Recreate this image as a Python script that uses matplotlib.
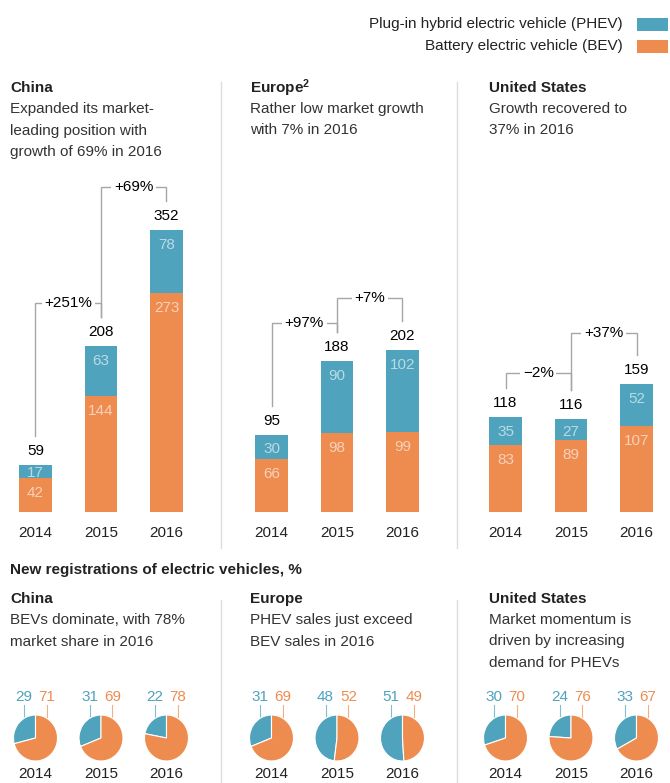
import matplotlib.pyplot as plt
from matplotlib.lines import Line2D
from matplotlib.patches import Rectangle

plt.rcParams['font.family'] = ['Liberation Sans', 'DejaVu Sans']
plt.rcParams['mathtext.default'] = 'regular'

PHEV_COLOR = '#4fa3bd'
BEV_COLOR = '#ee8c50'
TEXT_COLOR = '#222222'
LINE_GRAY = '#a6a6a6'
FS = 11

# new EV sales, thousand units
years = ['2014', '2015', '2016']
china_phev = [17, 63, 78]
china_bev = [42, 144, 273]
china_total = [59, 208, 352]
europe_phev = [30, 90, 102]
europe_bev = [66, 98, 99]
europe_total = [95, 188, 202]
us_phev = [35, 27, 52]
us_bev = [83, 89, 107]
us_total = [118, 116, 159]
china_growth = ['+251%', '+69%']
europe_growth = ['+97%', '+7%']
us_growth = ['\u22122%', '+37%']

# share of new registrations, %
china_share_phev = [29, 31, 22]
china_share_bev = [71, 69, 78]
europe_share_phev = [31, 48, 51]
europe_share_bev = [69, 52, 49]
us_share_phev = [30, 24, 33]
us_share_bev = [70, 76, 67]

sales_titles = ['China', 'Europe$^{2}$', 'United States']
sales_notes = [['Expanded its market-', 'leading position with', 'growth of 69% in 2016'],
               ['Rather low market growth', 'with 7% in 2016'],
               ['Growth recovered to', '37% in 2016']]
share_titles = ['China', 'Europe', 'United States']
share_notes = [['BEVs dominate, with 78%', 'market share in 2016'],
               ['PHEV sales just exceed', 'BEV sales in 2016'],
               ['Market momentum is', 'driven by increasing', 'demand for PHEVs']]

sales = [(china_phev, china_bev, china_total, china_growth),
         (europe_phev, europe_bev, europe_total, europe_growth),
         (us_phev, us_bev, us_total, us_growth)]
shares = [(china_share_phev, china_share_bev),
          (europe_share_phev, europe_share_bev),
          (us_share_phev, us_share_bev)]

# layout in pixels
W, H = 670, 783
SCALE = 0.804          # px per thousand vehicles
BASE = 512             # bar baseline
YMAX = 430
STEP = 65.5
col_left = [2.75, 238.75, 472.75]
text_left = [10, 250, 489]
bracket_y = [[260, 404], [235, 266], [173, 223]]
PIE_BOTTOM = 761


def fx(x):
    return x / W


def fy(y):
    return 1 - y / H


fig = plt.figure(figsize=(W / 100, H / 100), dpi=100)

# legend
for label, color, y in [('Plug-in hybrid electric vehicle (PHEV)', PHEV_COLOR, 24),
                        ('Battery electric vehicle (BEV)', BEV_COLOR, 46)]:
    fig.text(fx(623), fy(y), label, ha='right', va='center', fontsize=FS, color=TEXT_COLOR)
    fig.add_artist(Rectangle((fx(637), fy(y + 7)), fx(31), 13 / H, color=color, lw=0))

# column headers
for r in range(3):
    fig.text(fx(text_left[r]), fy(88), sales_titles[r], fontsize=FS, fontweight='bold',
             va='center', color=TEXT_COLOR)
    for k, line in enumerate(sales_notes[r]):
        fig.text(fx(text_left[r]), fy(109 + 21.5 * k), line, fontsize=FS, va='center', color='#333333')
    fig.text(fx(text_left[r]), fy(599), share_titles[r], fontsize=FS, fontweight='bold',
             va='center', color=TEXT_COLOR)
    for k, line in enumerate(share_notes[r]):
        fig.text(fx(text_left[r]), fy(620 + 21.5 * k), line, fontsize=FS, va='center', color='#333333')

fig.text(fx(10), fy(570), 'New registrations of electric vehicles, %', fontsize=FS,
         fontweight='bold', va='center', color=TEXT_COLOR)

# column dividers
for x in [221, 457]:
    fig.add_artist(Line2D([fx(x), fx(x)], [fy(82), fy(548)], color='#dddddd', lw=1))
    fig.add_artist(Line2D([fx(x), fx(x)], [fy(600), fy(783)], color='#dddddd', lw=1))

# stacked bars
for r, (phev, bev, total, growth) in enumerate(sales):
    ax = fig.add_axes([fx(col_left[r]), fy(BASE), fx(3 * STEP), YMAX * SCALE / H])
    x = range(3)
    ax.bar(x, bev, width=0.49, color=BEV_COLOR)
    ax.bar(x, phev, width=0.49, bottom=bev, color=PHEV_COLOR)
    ax.set_xlim(-0.5, 2.5)
    ax.set_ylim(0, YMAX)
    for s in ax.spines.values():
        s.set_visible(False)
    ax.set_yticks([])
    ax.set_xticks(list(x), years)
    ax.tick_params(axis='x', length=0, pad=10, labelsize=FS, labelcolor=TEXT_COLOR)
    ax.patch.set_alpha(0)

    tops = [b + p for b, p in zip(bev, phev)]
    for j in x:
        for bottom, seg in [(0, bev[j]), (bev[j], phev[j])]:
            off = min(15, seg * SCALE / 2 + 2) / SCALE
            ax.text(j, bottom + seg - off, str(seg), ha='center', va='center',
                    fontsize=FS, color='white', alpha=0.6)
        ax.text(j, tops[j] + 14 / SCALE, str(total[j]), ha='center', va='center',
                fontsize=FS, color='black')

    gap = 29 / SCALE
    for k in range(2):
        h = bracket_y[r][k]
        ax.plot([k, k, k + 1, k + 1], [tops[k] + gap, h, h, tops[k + 1] + gap],
                color=LINE_GRAY, lw=1, solid_joinstyle='miter')
        ax.text(k + 0.5, h, growth[k], ha='center', va='center', fontsize=FS, color='black',
                bbox=dict(facecolor='white', edgecolor='none', pad=2))

# share pies
for r, (sp, sb) in enumerate(shares):
    for j in range(3):
        cx = col_left[r] + STEP * (j + 0.5)
        pax = fig.add_axes([fx(cx - 22), fy(PIE_BOTTOM), fx(44), 46 / H])
        pax.pie([sp[j], sb[j]], colors=[PHEV_COLOR, BEV_COLOR], startangle=90,
                counterclock=True, wedgeprops=dict(edgecolor='white', linewidth=0.8))
        pax.set_aspect('auto')
        pax.set_xlim(-1, 1)
        pax.set_ylim(-1, 1)
        pax.patch.set_alpha(0)
        for sx, val, color in [(-0.52, sp[j], PHEV_COLOR), (0.52, sb[j], BEV_COLOR)]:
            pax.plot([sx, sx], [1.45, 0.8], color=color, lw=0.8, alpha=0.7,
                     clip_on=False, zorder=0)
            pax.text(sx, 1.8, str(val), ha='center', va='center', fontsize=FS, color=color)
        pax.text(0, -1.55, years[j], ha='center', va='center', fontsize=FS, color=TEXT_COLOR)

fig.savefig('out.png', dpi=100)
